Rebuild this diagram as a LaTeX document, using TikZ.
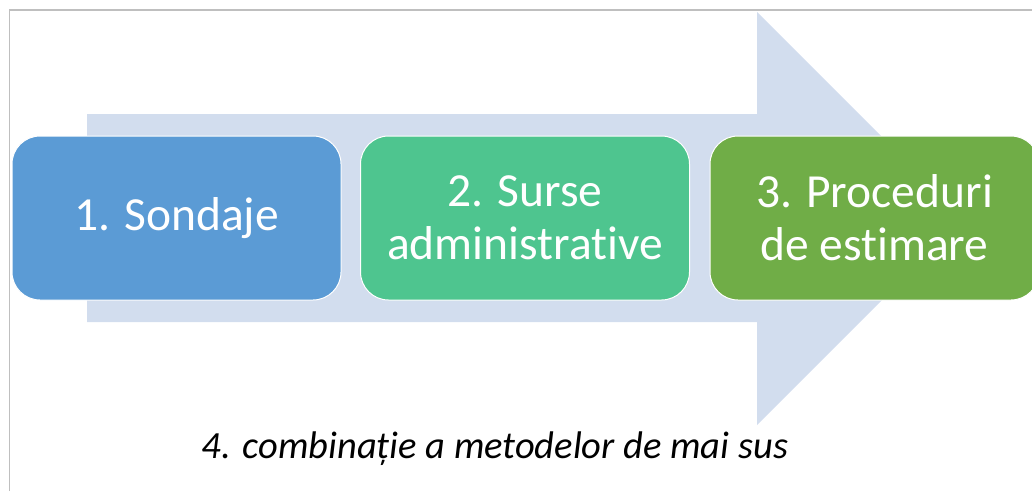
\documentclass[tikz,border=0pt]{standalone}
\usepackage{fontspec}
\setmainfont{Carlito}[Ligatures={NoCommon}]
\definecolor{framegray}{HTML}{BFBFBF}
\definecolor{arrowblue}{HTML}{D2DDEE}
\definecolor{stepblue}{HTML}{5B9BD5}
\definecolor{stepteal}{HTML}{4EC58F}
\definecolor{stepgreen}{HTML}{70AD47}
\tikzset{
  stepbox/.style={draw=white, line width=1pt, rounded corners=28pt,
    minimum width=329pt, minimum height=164pt, text=white, align=center,
    font=\fontsize{47.5}{53}\selectfont}
}
\begin{document}
\begin{tikzpicture}[x=1pt,y=-1pt]
\useasboundingbox (0,0) rectangle (1032,491);
\clip (0,0) rectangle (1032,491);
% frame
\draw[framegray, line width=1.5pt] (9.5,491) -- (9.5,10) -- (1032,10);
% big arrow behind the steps
\fill[arrowblue] (87,114) -- (757,114) -- (757,12) -- (963.5,218.5)
  -- (757,425) -- (757,322) -- (87,322) -- cycle;
% steps
\node[stepbox, fill=stepblue] (sondaje) at (176.5,218) {1. Sondaje};
\node[stepbox, fill=stepteal] (surse) at (525,218) {2. Surse\\administrative};
\node[stepbox, fill=stepgreen] (proceduri) at (874.5,218) {3. Proceduri\\de estimare};
% note
\node[font=\fontsize{38.5}{46}\selectfont\itshape] (combinatie) at (495,449)
  {4. combinație a metodelor de mai sus};
\end{tikzpicture}
\end{document}
